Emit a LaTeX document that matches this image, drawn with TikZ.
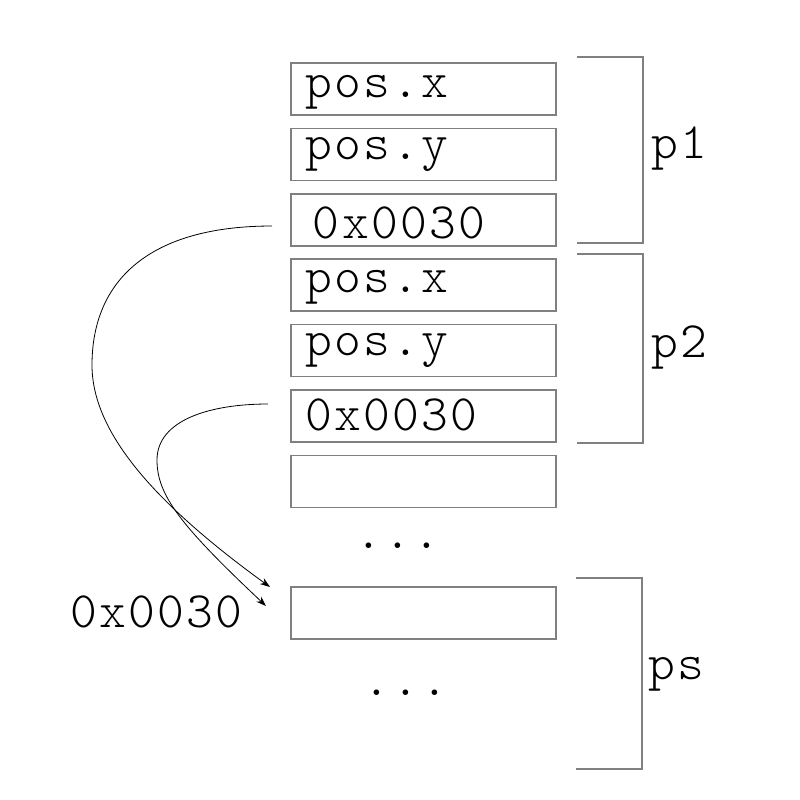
\documentclass[tikz,border=0pt]{standalone}
\usepackage{fontspec}
\setmonofont[LetterSpace=4.5]{lmmonolt10-regular.otf}
\usetikzlibrary{arrows.meta}

\begin{document}
\begin{tikzpicture}[x=0.5pt, y=-0.5pt,
    celula/.style={draw=gray, line width=0.6pt, minimum width=132.5pt, minimum height=26pt,
      inner xsep=7pt, inner ysep=0pt, text width=118.5pt, align=left, text height=14pt,
      font=\fontsize{25.5}{30}\ttfamily},
    rotulo/.style={inner sep=0pt, font=\fontsize{25.5}{30}\ttfamily},
    chave/.style={draw=gray, line width=0.6pt},
    seta/.style={-{Stealth[length=5pt, width=3.5pt]}, line width=0.4pt}]
  \useasboundingbox (0,0) rectangle (800,800);
  % Estrutura p1
  \node[celula, text depth=6pt] (c1) at (423.5,89) {pos.x};
  \node[celula, text depth=9.5pt] (c2) at (423.5,154.5) {pos.y};
  \node[celula, text height=18pt, text depth=0pt] (c3) at (423.5,220) {\hspace{4pt}0x0030};
  % Estrutura p2
  \node[celula, text depth=7pt] (c4) at (423.5,285) {pos.x};
  \node[celula, text depth=9.5pt] (c5) at (423.5,350.5) {pos.y};
  \node[celula, text depth=0pt] (c6) at (423.5,416) {0x0030};
  \node[celula] (c7) at (423.5,481.5) {};
  \node[rotulo, anchor=base] (d1) at (398,548) {...};
  % Vetor ps
  \node[celula] (c8) at (423.5,613) {};
  \node[rotulo, anchor=base] (d2) at (406,695) {...};
  \node[rotulo, anchor=base west] (end) at (70,627) {0x0030};

  % Chaves
  \draw[chave] (577,57) -- (643,57) -- (643,243) -- (577,243);
  \node[rotulo, anchor=base west] (p1) at (651,158) {p1};
  \draw[chave] (577,254) -- (643,254) -- (643,443) -- (577,443);
  \node[rotulo, anchor=base west] (p2) at (651,357) {p2};
  \draw[chave] (576,578) -- (642,578) -- (642,769) -- (576,769);
  \node[rotulo, anchor=base west] (ps) at (648,679) {ps};

  % Ponteiros
  \coordinate (s1) at (272,226);
  \coordinate (e1) at (270,587);
  \coordinate (s2) at (268,404);
  \coordinate (e2) at (266,606);
  \draw[seta] (s1) .. controls (150,226) and (92,280) .. (92,365)
    .. controls (92,430) and (150,500) .. (e1);
  \draw[seta] (s2) .. controls (210,404) and (157,420) .. (157,460)
    .. controls (157,495) and (180,525) .. (e2);
\end{tikzpicture}
\end{document}
